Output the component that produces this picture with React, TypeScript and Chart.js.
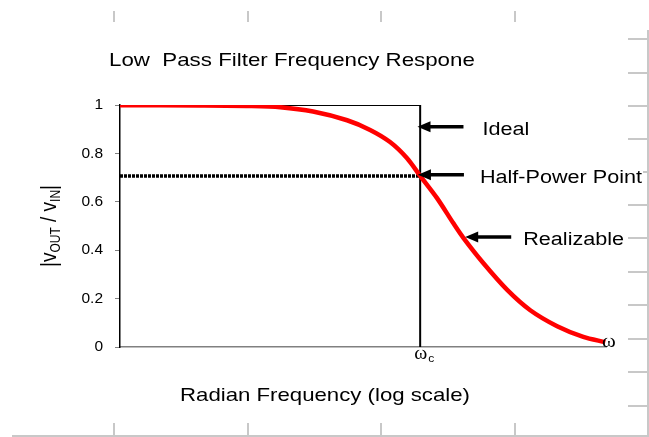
import React, { useEffect, useRef } from "react";
import { Chart, registerables } from "chart.js";

Chart.register(...registerables);

// ---- Data (ω normalised to the cut-off frequency ωc = 1) ----
const omega = [0.001, 0.0063, 0.02, 0.04, 0.085, 0.186, 0.316, 0.5, 0.74, 1, 1.48, 2.14, 2.69, 4.27, 7.41, 12.6, 23.4, 42.7, 70.8];
const realizableGain = [0.999, 0.998, 0.996, 0.991, 0.973, 0.937, 0.897, 0.847, 0.78, 0.707, 0.614, 0.512, 0.452, 0.347, 0.236, 0.152, 0.086, 0.042, 0.02];

const idealOmega = [0.001, 1, 1];
const idealGain = [1, 1, 0];

const halfPowerOmega = [0.001, 1];
const halfPowerGain = [0.707, 0.707];

const omegaMin = 0.001;
const omegaMax = 72;
const yTicks = [0, 0.2, 0.4, 0.6, 0.8, 1];

const annotationLabels = ["Ideal", "Half-Power Point", "Realizable"];
const annotationOmega = [0.94, 0.95, 2.82];
const annotationGain = [0.91, 0.712, 0.455];

const chartTitle = "Low  Pass Filter Frequency Respone";
const xTitle = "Radian Frequency (log scale)";

// layout constants (pixels)
const labelOffsets = [65, 62, 58];

const SANS = "'Liberation Sans', Arial, sans-serif";
const SERIF = "'Liberation Serif', 'Times New Roman', serif";
const STRETCH = 1.2;

function stretchedText(
  ctx: CanvasRenderingContext2D,
  text: string,
  x: number,
  y: number,
  font: string,
  align: CanvasTextAlign = "left",
  sx = STRETCH
) {
  ctx.save();
  ctx.font = font;
  ctx.textAlign = align;
  ctx.textBaseline = "alphabetic";
  ctx.translate(x, y);
  ctx.scale(sx, 1);
  ctx.fillText(text, 0, 0);
  ctx.restore();
}

const sheetPlugin = {
  id: "sheet",
  beforeDraw(chart: any) {
    const ctx: CanvasRenderingContext2D = chart.ctx;
    ctx.save();
    ctx.strokeStyle = "#c8c8c8";
    ctx.lineWidth = 2;
    const cols = [114, 248, 381, 515];
    ctx.beginPath();
    cols.forEach((c) => {
      ctx.moveTo(c, 11);
      ctx.lineTo(c, 22);
      ctx.moveTo(c, 423);
      ctx.lineTo(c, 437);
    });
    ctx.moveTo(12, 436);
    ctx.lineTo(649, 436);
    ctx.moveTo(648, 30);
    ctx.lineTo(648, 437);
    const rows = [39, 73, 106, 139, 172, 205, 238, 272, 305, 339, 372, 406];
    rows.forEach((r) => {
      ctx.moveTo(628, r);
      ctx.lineTo(648, r);
    });
    ctx.stroke();
    ctx.restore();
  },
};

const annotatePlugin = {
  id: "annotate",
  afterDraw(chart: any) {
    const ctx: CanvasRenderingContext2D = chart.ctx;
    const xs = chart.scales.x;
    const ys = chart.scales.y;
    ctx.save();
    ctx.fillStyle = "#000";

    // chart title
    stretchedText(ctx, chartTitle, 109, 66, `18.6px ${SANS}`);

    // x axis title
    stretchedText(ctx, xTitle, 325, 401, `18.5px ${SANS}`, "center");

    // y axis title, rotated, with subscripts
    ctx.save();
    ctx.translate(56, 226);
    ctx.rotate(-Math.PI / 2);
    ctx.scale(1, 1.2);
    const big = `19px ${SANS}`;
    const small = `12px ${SANS}`;
    const parts: [string, boolean][] = [
      ["|v", false],
      ["OUT", true],
      [" / v", false],
      ["IN", true],
      ["|", false],
    ];
    let total = 0;
    parts.forEach(([t, sub]) => {
      ctx.font = sub ? small : big;
      total += ctx.measureText(t).width;
    });
    let cx = -total / 2;
    ctx.textBaseline = "alphabetic";
    ctx.textAlign = "left";
    parts.forEach(([t, sub]) => {
      ctx.font = sub ? small : big;
      ctx.fillText(t, cx, sub ? 3 : 0);
      cx += ctx.measureText(t).width;
    });
    ctx.restore();

    // arrows and labels
    annotationLabels.forEach((label, i) => {
      const tipX = xs.getPixelForValue(annotationOmega[i]);
      const tipY = ys.getPixelForValue(annotationGain[i]);
      ctx.strokeStyle = "#000";
      ctx.lineWidth = 3.5;
      ctx.beginPath();
      ctx.moveTo(tipX + 10, tipY);
      ctx.lineTo(tipX + 46, tipY);
      ctx.stroke();
      ctx.beginPath();
      ctx.moveTo(tipX, tipY);
      ctx.lineTo(tipX + 13, tipY - 5.5);
      ctx.lineTo(tipX + 13, tipY + 5.5);
      ctx.closePath();
      ctx.fill();

      const lx = tipX + labelOffsets[i];
      const ly = tipY + 8;
      ctx.font = `18px ${SANS}`;
      const w = ctx.measureText(label).width * STRETCH;
      ctx.fillStyle = "#fff";
      ctx.fillRect(lx - 1, ly - 15, w + 2, 20);
      ctx.fillStyle = "#000";
      stretchedText(ctx, label, lx, ly, `18px ${SANS}`);
    });

    // ωc under the cut-off line
    const xc = xs.getPixelForValue(1);
    const y0 = ys.getPixelForValue(0);
    stretchedText(ctx, "ω", xc - 6, y0 + 12, `18px ${SERIF}`, "left", 1.1);
    stretchedText(ctx, "c", xc + 8, y0 + 15, `11px ${SANS}`, "left", 1.1);

    // ω at the end of the axis
    stretchedText(ctx, "ω", xs.right - 4, y0, `19px ${SERIF}`, "left", 1.1);

    ctx.restore();
  },
};

export default function App() {
  const canvasRef = useRef<HTMLCanvasElement | null>(null);

  useEffect(() => {
    if (!canvasRef.current) return;
    const chart = new Chart(canvasRef.current, {
      type: "line",
      data: {
        datasets: [
          {
            label: "Ideal",
            data: idealOmega.map((w, i) => ({ x: w, y: idealGain[i] })),
            borderColor: "#000",
            borderWidth: 2,
            pointRadius: 0,
            tension: 0,
            order: 2,
          },
          {
            label: "Half-Power",
            data: halfPowerOmega.map((w, i) => ({ x: w, y: halfPowerGain[i] })),
            borderColor: "#000",
            borderWidth: 3.5,
            borderDash: [3, 1],
            pointRadius: 0,
            tension: 0,
            order: 3,
          },
          {
            label: "Realizable",
            data: omega.map((w, i) => ({ x: w, y: realizableGain[i] })),
            borderColor: "#ff0000",
            borderWidth: 4.5,
            pointRadius: 0,
            tension: 0.3,
            order: 1,
          },
        ],
      },
      options: {
        animation: false,
        responsive: false,
        devicePixelRatio: 1,
        layout: { padding: { top: 105, right: 43, left: 0, bottom: 0 } },
        plugins: {
          legend: { display: false },
          title: { display: false },
          tooltip: { enabled: false },
        },
        scales: {
          x: {
            type: "logarithmic",
            min: omegaMin,
            max: omegaMax,
            ticks: { display: false },
            grid: { display: false, drawTicks: false },
            border: { display: true, color: "#808080", width: 1.5 },
            afterFit: (s: any) => {
              s.height = 90;
            },
          },
          y: {
            min: 0,
            max: 1,
            afterBuildTicks: (s: any) => {
              s.ticks = yTicks.map((v) => ({ value: v }));
            },
            ticks: {
              padding: 12,
              color: "#000",
              font: { family: SANS, size: 15.5 },
              callback: (v: any) => String(v),
            },
            grid: {
              drawOnChartArea: false,
              drawTicks: true,
              tickLength: 5,
              color: "#808080",
            },
            border: { display: true, color: "#000", width: 1.5 },
            afterFit: (s: any) => {
              s.width = 120;
            },
          },
        },
      },
      plugins: [sheetPlugin, annotatePlugin],
    } as any);
    return () => chart.destroy();
  }, []);

  return (
    <div style={{ position: "fixed", left: 0, top: 0, width: 649, height: 437, background: "#fff" }}>
      <canvas ref={canvasRef} width={649} height={437} style={{ display: "block" }} />
    </div>
  );
}
